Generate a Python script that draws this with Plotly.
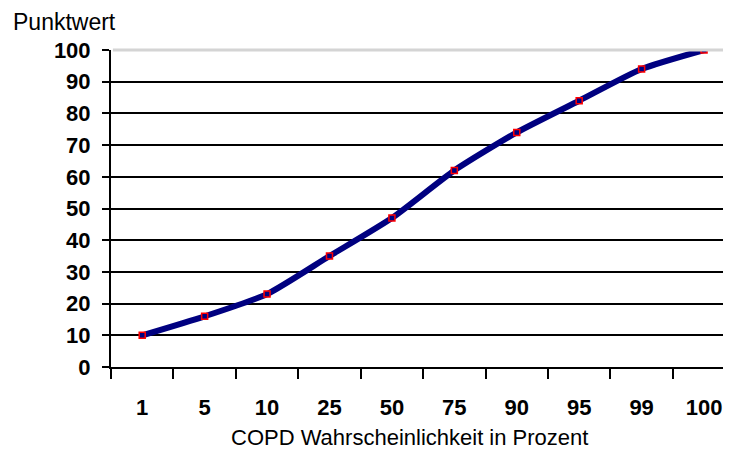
import plotly.graph_objects as go

categories = ["1", "5", "10", "25", "50", "75", "90", "95", "99", "100"]
punktwert = [10, 16, 23, 35, 47, 62, 74, 84, 94, 100]
y_ticks = [0, 10, 20, 30, 40, 50, 60, 70, 80, 90, 100]

FONT = "Liberation Sans, Arial, sans-serif"

fig = go.Figure()
fig.add_trace(go.Scatter(
    x=categories, y=punktwert, mode="lines+markers",
    line=dict(color="#000080", width=6, shape="spline", smoothing=0.6),
    marker=dict(symbol="square", size=6, color="#000080",
                line=dict(color="#ff0000", width=1.5)),
    showlegend=False, hoverinfo="x+y",
))

fig.update_layout(
    width=731, height=442,
    margin=dict(l=103, r=0, t=42, b=83),
    paper_bgcolor="white", plot_bgcolor="white",
    font=dict(family=FONT, color="black"),
    xaxis=dict(
        type="category", range=[-0.5, 9.56],
        tickson="boundaries", ticks="outside", ticklen=10, tickwidth=2,
        tickcolor="black", showline=True, linecolor="black", linewidth=2,
        showgrid=False, zeroline=False,
        tickfont=dict(size=22, family=FONT, weight="bold"),
        ticklabelstandoff=20,
    ),
    yaxis=dict(
        range=[0, 100], tickvals=y_ticks, ticks="outside", ticklen=7,
        tickwidth=2, tickcolor="black", showline=True, linecolor="black",
        linewidth=2, showgrid=True, gridcolor="black", gridwidth=2,
        zeroline=False, ticklabelstandoff=7,
        tickfont=dict(size=22, family=FONT, weight="bold"),
    ),
    shapes=[dict(type="line", xref="x domain", yref="y domain",
                 x0=0.003, x1=1, y0=1, y1=1, layer="above",
                 line=dict(color="#d4d4d4", width=3))],
    annotations=[
        dict(text="Punktwert", xref="paper", yref="paper",
             x=-0.16, y=1.088, xanchor="left", yanchor="middle",
             showarrow=False, font=dict(size=23, family=FONT)),
        dict(text="COPD Wahrscheinlichkeit in Prozent", xref="paper",
             yref="paper", x=0.476, y=-0.222, xanchor="center",
             yanchor="middle", showarrow=False,
             font=dict(size=22, family=FONT)),
    ],
)

fig.write_html("out.html")
